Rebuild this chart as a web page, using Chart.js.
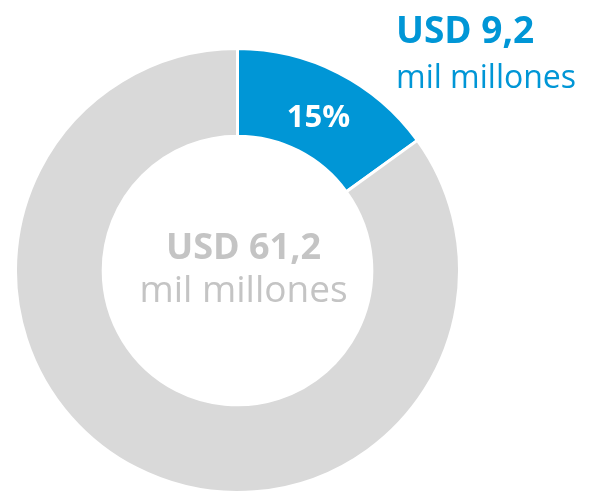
<!DOCTYPE html>
<html>
<head>
<meta charset="utf-8">
<script src="https://cdn.jsdelivr.net/npm/chart.js@4.4.0/dist/chart.umd.min.js"></script>
<style>
    html, body { margin: 0; padding: 0; background: #ffffff; }
    #wrap { position: relative; width: 609px; height: 494px; }
</style>
</head>
<body>
<div id="wrap"><canvas id="chartDona"></canvas></div>
<script>
// Données du graphique
const categories = ['Parte destacada', 'Resto'];
const valeurs = [9.2, 52.0];
const totalTexte = ['USD 61,2', 'mil millones'];
const partTexte = ['USD 9,2', 'mil millones'];

const bleu = '#0096d6';
const gris = '#d9d9d9';
const grisTexte = '#c4c4c4';

const total = valeurs.reduce((a, b) => a + b, 0);

// Plugin pour les textes (centre, pourcentage, étiquette en haut à droite)
const textesPlugin = {
    id: 'textes',
    afterDraw(chart) {
        const ctx = chart.ctx;
        const arc = chart.getDatasetMeta(0).data[0];
        const cx = arc.x, cy = arc.y;
        ctx.save();
        ctx.textBaseline = 'alphabetic';

        // texte central
        ctx.textAlign = 'center';
        ctx.fillStyle = grisTexte;
        ctx.font = 'bold 36px "Open Sans"';
        ctx.fillText(totalTexte[0], cx + 6, cy - 12);
        ctx.font = '37px "Open Sans"';
        ctx.fillText(totalTexte[1], cx + 6, cy + 31);

        // pourcentage dans le segment bleu
        const pos = arc.tooltipPosition();
        ctx.fillStyle = '#ffffff';
        ctx.font = 'bold 31px "Open Sans"';
        ctx.fillText(Math.round(valeurs[0] / total * 100) + '%', pos.x, pos.y + 15);

        // étiquette en haut à droite
        ctx.textAlign = 'left';
        ctx.fillStyle = bleu;
        ctx.font = 'bold 37px "Open Sans"';
        ctx.fillText(partTexte[0], 396, 43);
        ctx.font = '32px "Open Sans"';
        ctx.fillText(partTexte[1], 396, 88);
        ctx.restore();
    }
};

const canvas = document.getElementById('chartDona');

new Chart(canvas, {
    type: 'doughnut',
    data: {
        labels: categories,
        datasets: [{
            data: valeurs,
            backgroundColor: [bleu, gris],
            borderColor: '#ffffff',
            borderWidth: 3,
            hoverOffset: 0
        }]
    },
    options: {
        responsive: true,
        maintainAspectRatio: false,
        animation: false,
        cutout: '60.5%',
        layout: {
            padding: { left: 14, top: 47, right: 148, bottom: 0 }
        },
        plugins: {
            legend: { display: false },
            tooltip: { enabled: false }
        }
    },
    plugins: [textesPlugin]
});
</script>
</body>
</html>
